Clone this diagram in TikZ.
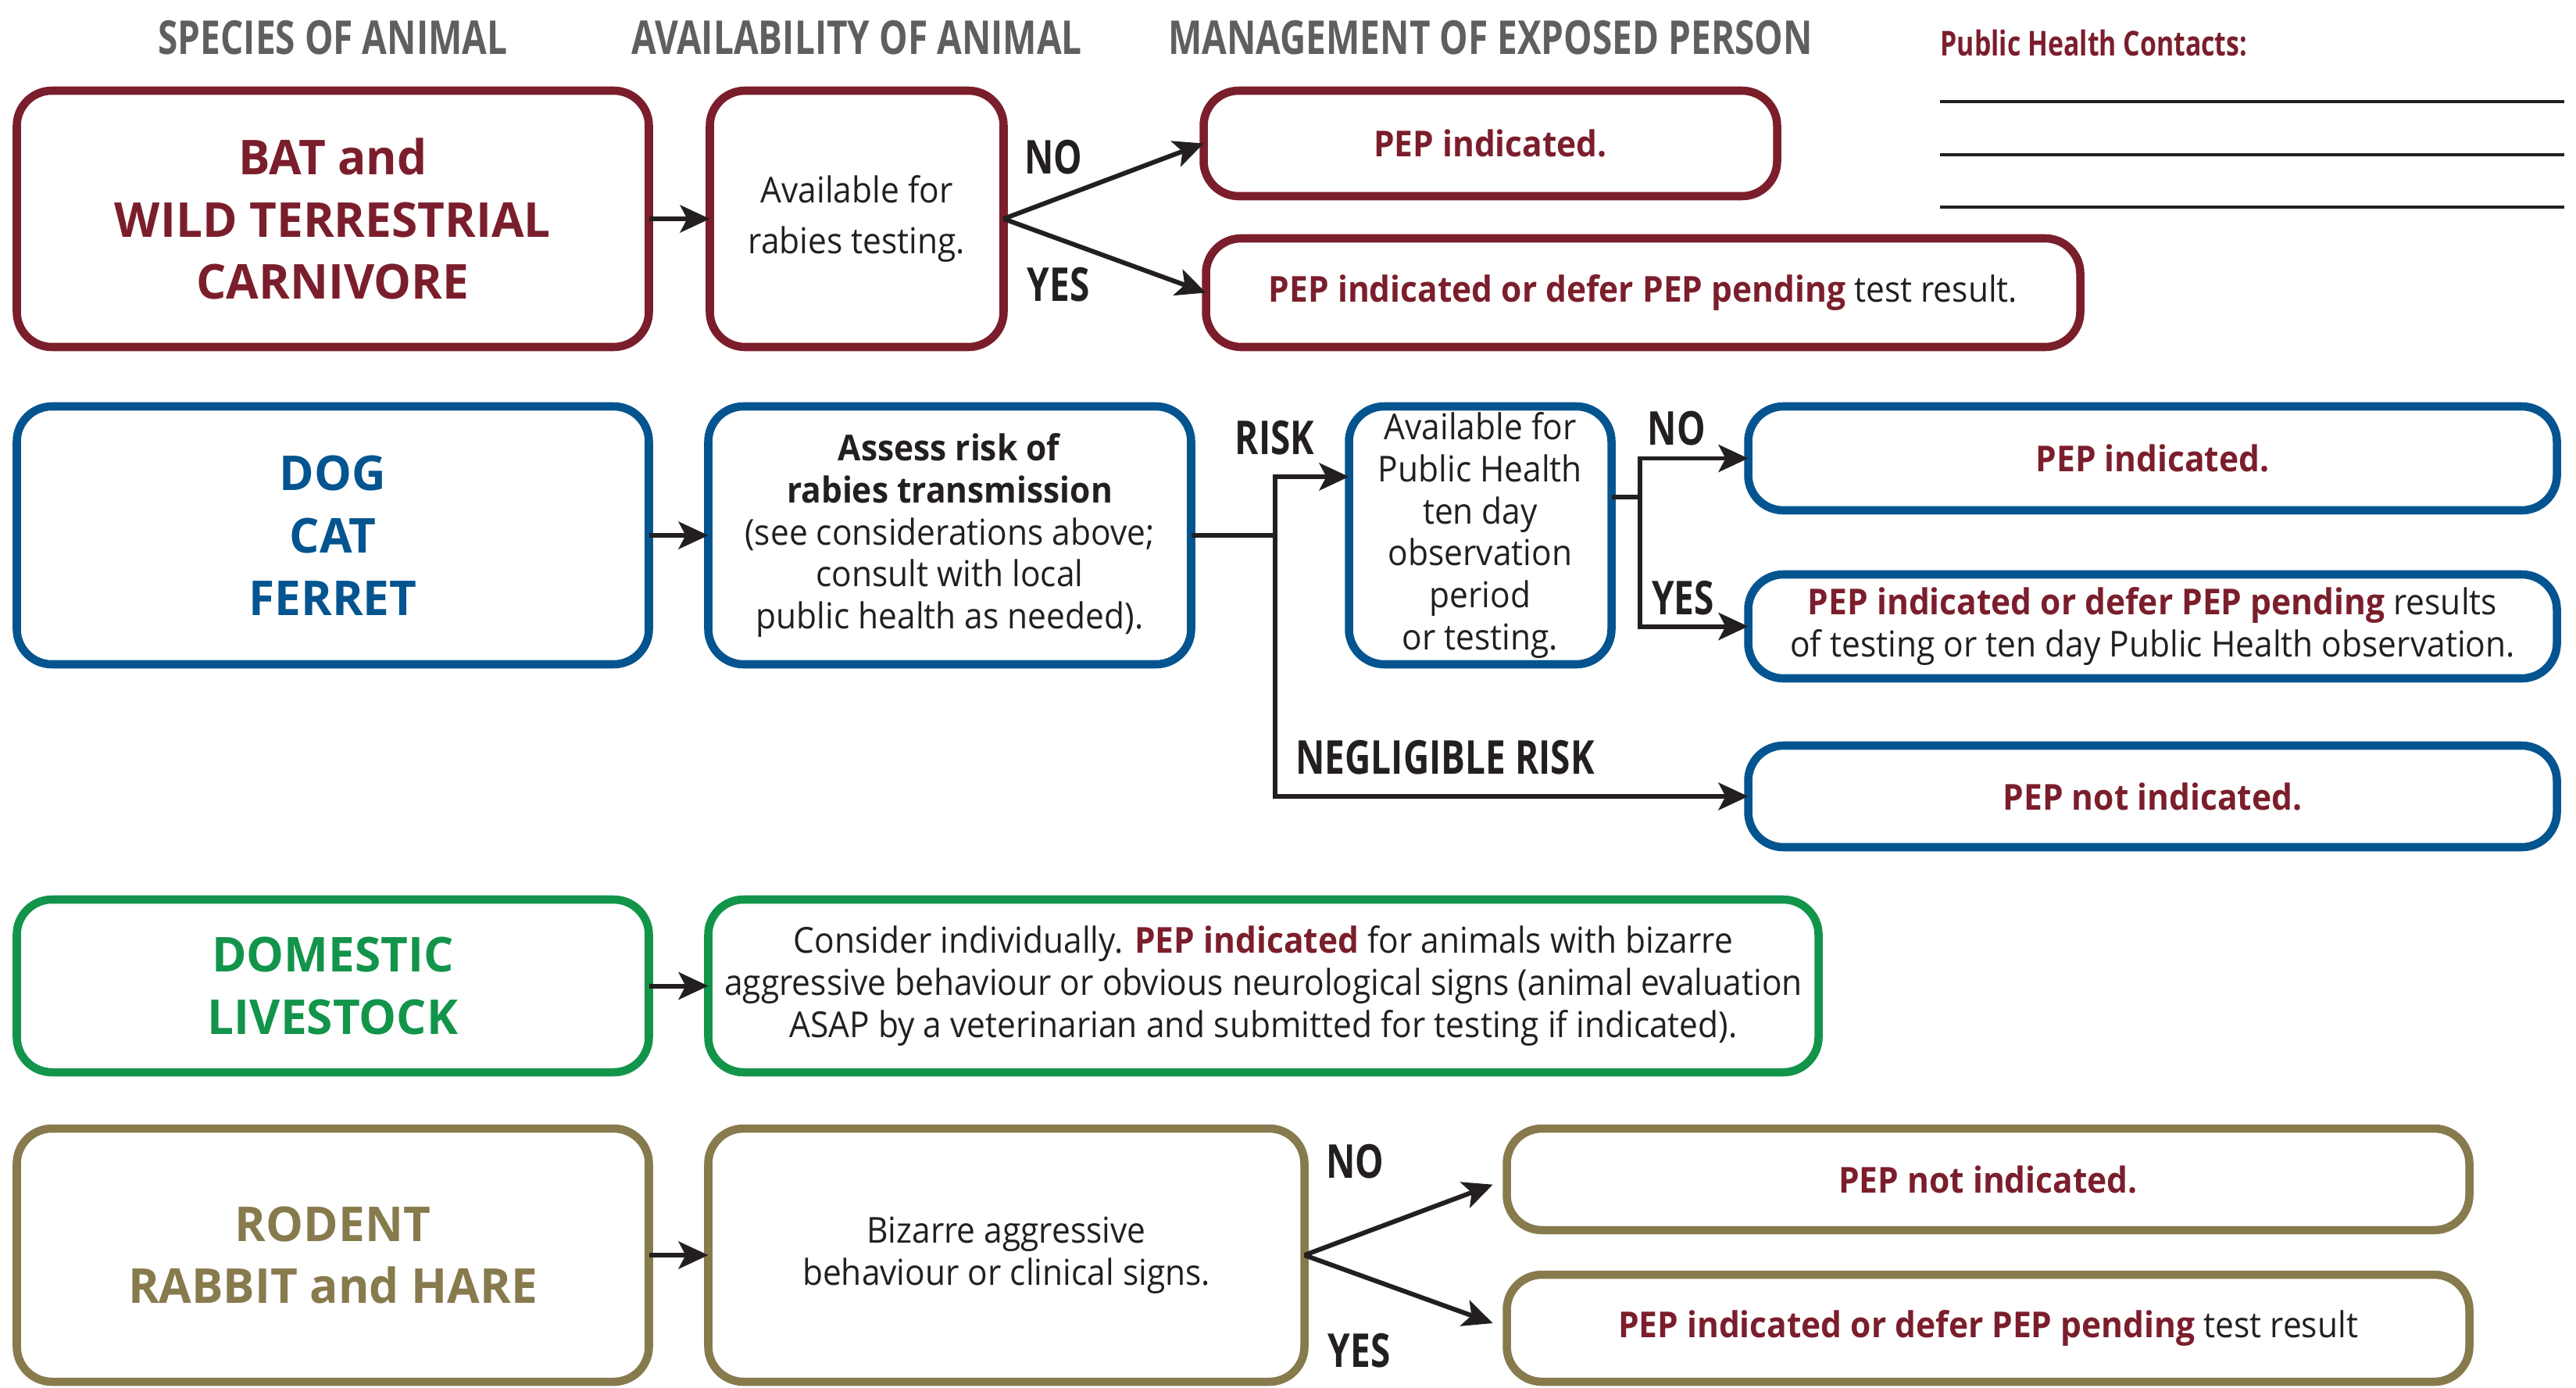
\documentclass[tikz,border=0pt]{standalone}
\usepackage{fontspec}
\setmainfont{Open Sans}[FakeStretch=0.93]
\newfontfamily\condfont{Open Sans}[FakeStretch=0.77]
\newfontfamily\widefont{Open Sans}[FakeStretch=0.98]
\usetikzlibrary{positioning, arrows.meta}

\definecolor{pepred}{RGB}{123,30,44}
\definecolor{dogblue}{RGB}{4,84,144}
\definecolor{livegreen}{RGB}{18,148,74}
\definecolor{rodentolive}{RGB}{135,122,77}
\definecolor{headgray}{RGB}{95,95,95}
\definecolor{ink}{RGB}{35,31,32}

\newcommand{\bodyfont}{\fontsize{13}{15.3}\selectfont}
\newcommand{\headfont}{\condfont\bfseries\fontsize{17}{20}\selectfont}
\newcommand{\contactfont}{\condfont\bfseries\fontsize{12.5}{15}\selectfont}
\newcommand{\speciesfont}{\widefont\bfseries\fontsize{17.5}{22.7}\selectfont}
\newcommand{\pep}[1]{\textcolor{pepred}{\textbf{#1}}}

\begin{document}
\begin{tikzpicture}[
    >={Stealth[length=3.8mm, width=3.5mm, inset=0.9mm]},
    node distance=0.76cm and 0.76cm,
    every node/.style={font=\bodyfont, align=center, text=ink},
    box/.style={
        draw, rounded corners=4.5mm, line width=3pt, fill=white,
        inner sep=1pt, outer sep=0pt
    },
    redbox/.style={box, draw=pepred},
    bluebox/.style={box, draw=dogblue},
    greenbox/.style={box, draw=livegreen},
    olivebox/.style={box, draw=rodentolive},
    species/.style={font=\speciesfont},
    head/.style={font=\headfont, text=headgray, inner sep=0pt},
    tag/.style={font=\headfont, text=ink, inner sep=0pt},
    wire/.style={line width=1.7pt, draw=ink},
    line/.style={wire, ->}
]
\useasboundingbox (0,0) rectangle (32.97,-17.75);

% --- Row 1: bat and wild terrestrial carnivore ---
\node[redbox, species, text=pepred, minimum width=8.09cm, minimum height=3.28cm]
    (bat) at (4.26,-2.80) {BAT and\\WILD TERRESTRIAL\\CARNIVORE};
\node[redbox, minimum width=3.76cm, minimum height=3.28cm, right=0.78cm of bat]
    (avail1) {Available for\\[3.2pt]rabies testing.};
\node[redbox, minimum width=7.34cm, minimum height=1.35cm,
    right=2.56cm of avail1.north east, anchor=north west]
    (no1) {\pep{PEP indicated.}};
\node[redbox, minimum width=11.19cm, minimum height=1.39cm,
    right=2.59cm of avail1.south east, anchor=south west]
    (yes1) {\pep{PEP indicated or defer PEP pending} test result.};

% --- Row 2: dog, cat, ferret ---
\node[bluebox, species, text=dogblue, minimum width=8.09cm, minimum height=3.30cm,
    below=0.76cm of bat] (dog) {DOG\\CAT\\FERRET};
\node[bluebox, minimum width=6.18cm, minimum height=3.30cm, right=of dog]
    (assess) {\textbf{Assess risk of}\\\textbf{rabies transmission}\\(see considerations above;\\consult with local\\public health as needed).};
\node[bluebox, minimum width=3.36cm, minimum height=3.30cm, right=2.02cm of assess]
    (avail2) {Available for\\Public Health\\ten day\\observation\\period\\or testing.};
\node[bluebox, minimum width=10.35cm, minimum height=1.33cm,
    right=1.75cm of avail2.north east, anchor=north west]
    (no2) {\pep{PEP indicated.}};
\node[bluebox, minimum width=10.35cm, minimum height=1.33cm, below=0.82cm of no2]
    (yes2) {\pep{PEP indicated or defer PEP pending} results\\of testing or ten day Public Health observation.};
\node[bluebox, minimum width=10.35cm, minimum height=1.30cm, below=0.86cm of yes2]
    (neg2) {\pep{PEP not indicated.}};

% --- Row 3: domestic livestock ---
\node[greenbox, species, text=livegreen, minimum width=8.09cm, minimum height=2.21cm,
    below=3.01cm of dog] (live) {DOMESTIC\\LIVESTOCK};
\node[greenbox, minimum width=14.21cm, minimum height=2.21cm, right=of live]
    (consider) {Consider individually. \pep{PEP indicated} for animals with bizarre\\aggressive behaviour or obvious neurological signs (animal evaluation\\ASAP by a veterinarian and submitted for testing if indicated).};

% --- Row 4: rodent, rabbit and hare ---
\node[olivebox, species, text=rodentolive, minimum width=8.09cm, minimum height=3.24cm,
    below=0.72cm of live] (rodent) {RODENT\\RABBIT and HARE};
\node[olivebox, minimum width=7.63cm, minimum height=3.24cm, right=of rodent]
    (bizarre) {Bizarre aggressive\\behaviour or clinical signs.};
\node[olivebox, minimum width=12.32cm, minimum height=1.30cm,
    right=2.59cm of bizarre.north east, anchor=north west]
    (no4) {\pep{PEP not indicated.}};
\node[olivebox, minimum width=12.32cm, minimum height=1.37cm, below=0.57cm of no4]
    (yes4) {\pep{PEP indicated or defer PEP pending} test result};

% --- Column headings and contacts ---
\node[head] (hspecies) at (bat.north |- 0,-0.48) {SPECIES OF ANIMAL};
\node[head] (havail) at (avail1.north |- 0,-0.48) {AVAILABILITY OF ANIMAL};
\node[head] (hmanage) at (no1.north |- 0,-0.48) {MANAGEMENT OF EXPOSED PERSON};
\node[font=\contactfont, text=pepred, anchor=west, inner sep=0pt]
    (contacts) at (24.83,-0.55) {Public Health Contacts:};
\draw[wire, line width=1.1pt] (24.83,-1.30) -- (32.82,-1.30);
\draw[wire, line width=1.1pt] (24.83,-1.98) -- (32.82,-1.98);
\draw[wire, line width=1.1pt] (24.83,-2.65) -- (32.82,-2.65);

% --- Connections ---
\draw[line] (bat.east) -- (avail1.west);
\draw[line] (avail1.east) -- node[tag, pos=0.25, above=0.30cm]{NO} (no1.west);
\draw[line] (avail1.east) -- node[tag, pos=0.27, below=0.34cm]{YES} (yes1.west);

\draw[line] (dog.east) -- (assess.west);
\coordinate (fork) at ([xshift=1.07cm]assess.east);
\draw[wire] (assess.east) -- (fork);
\draw[line] (fork) |- ([yshift=0.75cm]avail2.west)
    node[tag, pos=0.5, above=0.25cm]{RISK};
\draw[line] (fork) |- (neg2.west)
    node[tag, pos=0.68, above=0.25cm]{NEGLIGIBLE RISK};
\coordinate (fork2) at ([xshift=0.36cm, yshift=0.49cm]avail2.east);
\draw[wire] ([yshift=0.49cm]avail2.east) -- (fork2);
\draw[line] (fork2) |- (no2.west) node[tag, pos=0.67, above=0.13cm]{NO};
\draw[line] (fork2) |- (yes2.west) node[tag, pos=0.70, above=0.11cm]{YES};

\draw[line] (live.east) -- (consider.west);

\draw[line] (rodent.east) -- (bizarre.west);
\draw[line, shorten >=0.19cm] (bizarre.east) --
    node[tag, pos=0.25, above=0.71cm]{NO} (no4.west);
\draw[line, shorten >=0.19cm] (bizarre.east) --
    node[tag, pos=0.27, below=0.72cm]{YES} (yes4.west);

\end{tikzpicture}
\end{document}
